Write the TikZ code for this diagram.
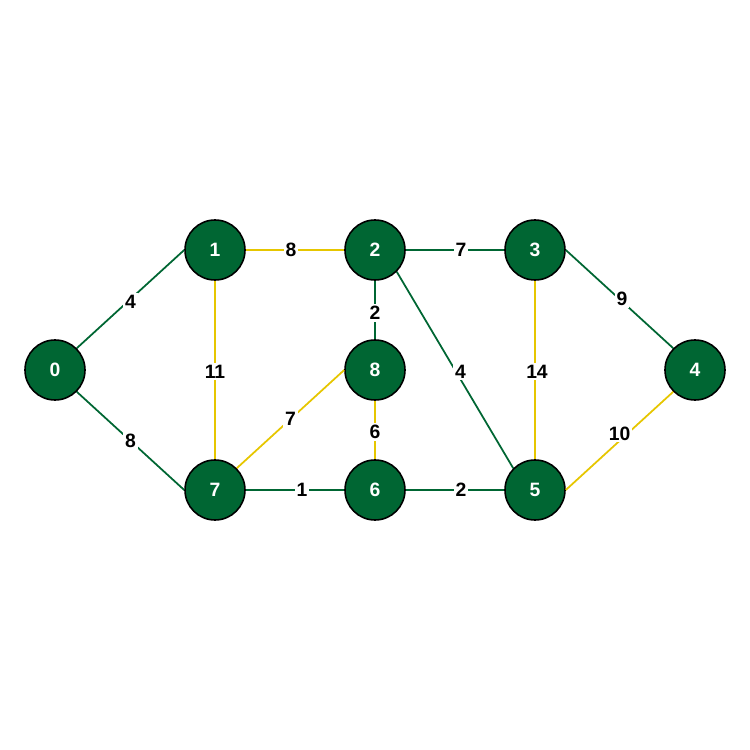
\documentclass[tikz,border=0pt]{standalone}
\usepackage{fontspec}
\setmainfont{Liberation Sans}
\usetikzlibrary{calc}
\definecolor{treegreen}{RGB}{0, 102, 51}
\definecolor{edgeyellow}{RGB}{230, 198, 0}

\begin{document}
\begin{tikzpicture}[font=\bfseries\fontsize{11}{13}\selectfont]

% =====================================================================
% Weighted graph on 9 vertices; green edges form the spanning tree,
% yellow edges are the remaining ones.
% Grid spacing 3.2 cm across, 2.4 cm up/down; node radius 0.6 cm.
% =====================================================================

\useasboundingbox (0,0) rectangle (15,15);

\tikzset{
  vertex/.style={circle, draw=black, line width=0.9pt, fill=treegreen,
                 text=white, minimum size=1.2cm, inner sep=0pt},
  treeedge/.style={treegreen, line width=1pt},
  otheredge/.style={edgeyellow, line width=1pt},
  weight/.style={fill=white, text=black, inner sep=1pt}
}

% Vertices
\node[vertex] (v0) at (1.1, 7.6)  {0};
\node[vertex] (v1) at (4.3, 10.0) {1};
\node[vertex] (v2) at (7.5, 10.0) {2};
\node[vertex] (v3) at (10.7,10.0) {3};
\node[vertex] (v4) at (13.9, 7.6) {4};
\node[vertex] (v5) at (10.7, 5.2) {5};
\node[vertex] (v6) at (7.5, 5.2)  {6};
\node[vertex] (v7) at (4.3, 5.2)  {7};
\node[vertex] (v8) at (7.5, 7.6)  {8};

% Edges not in the tree (yellow)
\draw[otheredge] (v1.east) -- node[weight, xshift=-0.08cm] {8} (v2.west);
\draw[otheredge] (v1.south) -- node[weight, yshift=-0.03cm] {11} (v7.north);
\draw[otheredge] (v7.north east) -- node[weight] {7} (v8.west);
\draw[otheredge] (v8.south) -- node[weight, yshift=-0.04cm] {6} (v6.north);
\draw[otheredge] (v3.south) -- node[weight, xshift=0.04cm, yshift=-0.03cm] {14} (v5.north);
\draw[otheredge] (v5.east) -- node[weight, yshift=0.15cm] {10} (v4.south west);

% Tree edges (green)
\draw[treeedge] (v0.north east) -- node[weight, yshift=-0.05cm] {4} (v1.west);
\draw[treeedge] (v0.south east) -- node[weight] {8} (v7.west);
\draw[treeedge] (v2.east) -- node[weight, xshift=0.12cm] {7} (v3.west);
\draw[treeedge] (v2.south) -- node[weight, yshift=-0.06cm] {2} (v8.north);
\draw[treeedge] (v2.south east) -- node[weight, xshift=0.11cm, yshift=-0.03cm] {4} (v5.north west);
\draw[treeedge] (v3.east) -- node[weight, xshift=0.05cm] {9} (v4.north west);
\draw[treeedge] (v7.east) -- node[weight, xshift=0.14cm] {1} (v6.west);
\draw[treeedge] (v6.east) -- node[weight, xshift=0.12cm] {2} (v5.west);

\end{tikzpicture}
\end{document}
